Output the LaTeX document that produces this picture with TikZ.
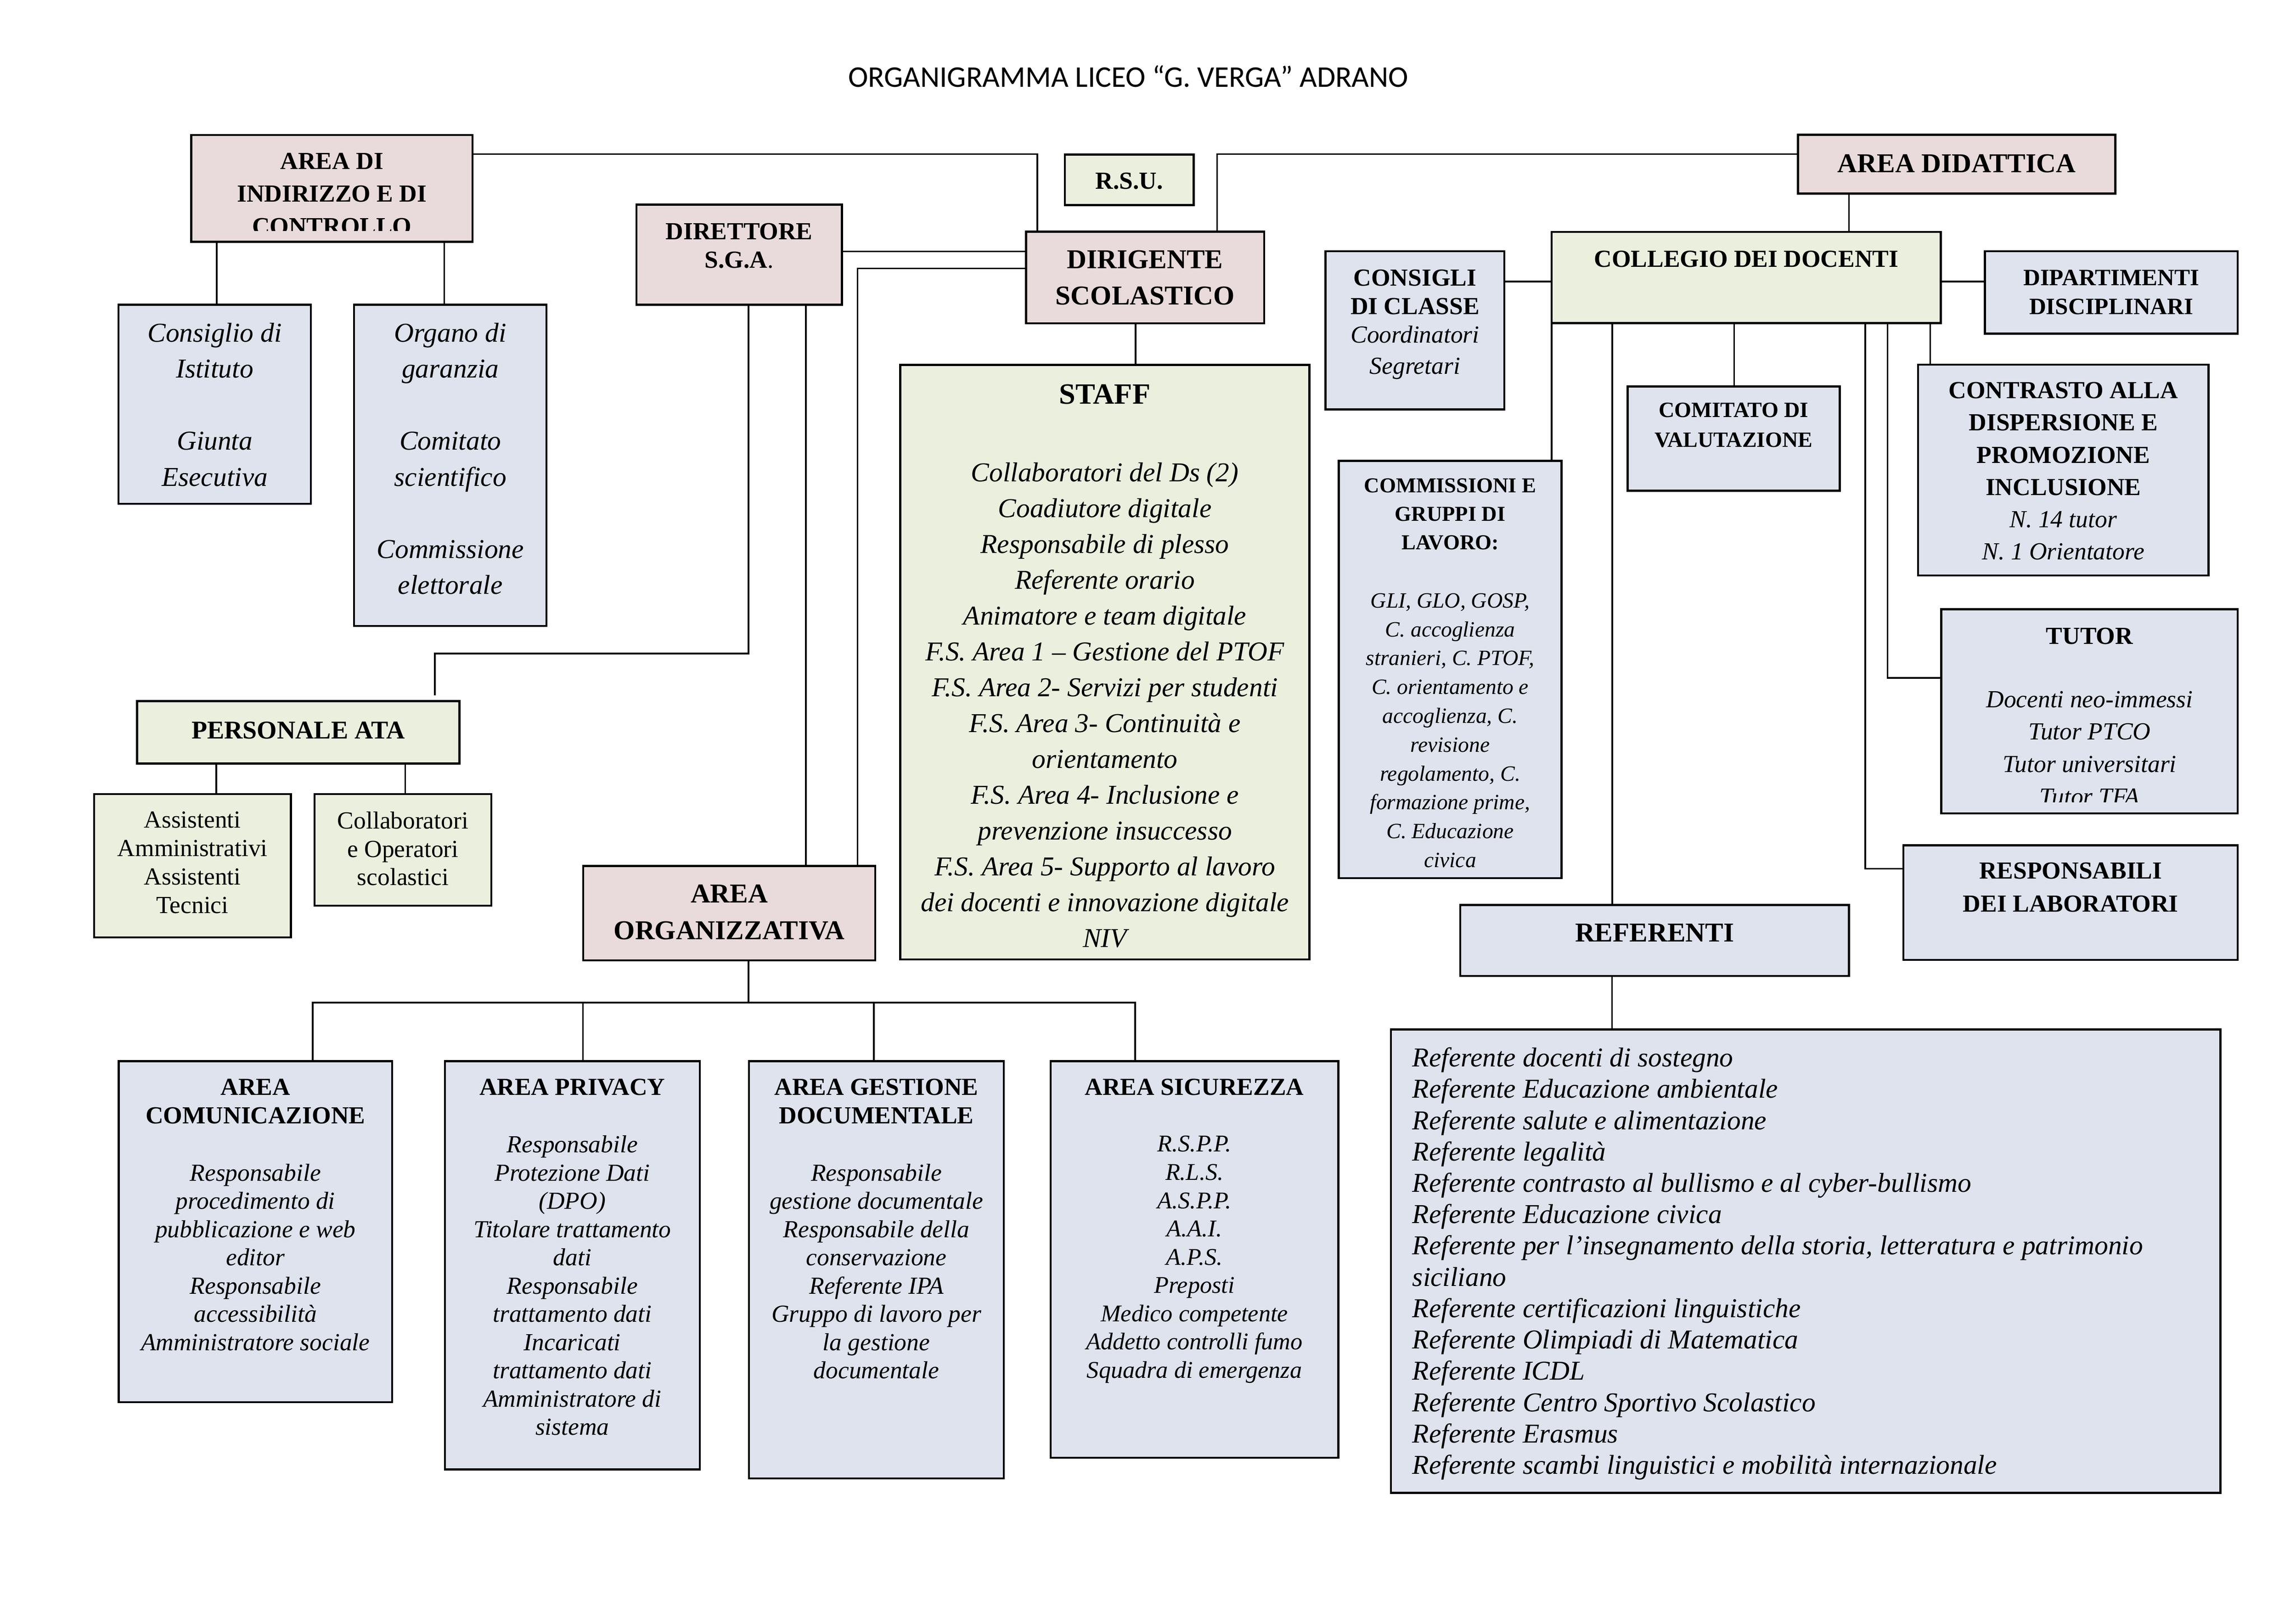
\documentclass[tikz,border=0pt]{standalone}
\usepackage{fontspec}
\setmainfont{Liberation Serif}
\newfontfamily\titlefont{Carlito}
\definecolor{pinkbox}{RGB}{233,219,219}
\definecolor{greenbox}{RGB}{235,240,222}
\definecolor{bluebox}{RGB}{222,227,238}
% box: name, style, x1, y1, x2, y2 (reference pixel units)
\newcommand{\bx}[6]{\node[#2, minimum width={(#5-#3)*0.5397pt}, minimum height={(#6-#4)*0.5397pt}] (#1) at ({(#3+#5)/2},{(#4+#6)/2}) {};}
% text block: name, cx, first baseline, font size, baselineskip, font switch, text
\newcommand{\tx}[7]{\node[anchor=north, align=center, inner sep=0pt, font=\fontsize{#4}{#5}\selectfont#6] (#1) at (#2,{#3-0.68*#4/0.5397}) {#7};}
\begin{document}
\begin{tikzpicture}[x=0.5397pt, y=-0.5397pt,
  basebox/.style={rectangle, draw=black, line width=0.75pt, inner sep=0pt, outer sep=0pt},
  pbox/.style={basebox, fill=pinkbox},
  gbox/.style={basebox, fill=greenbox},
  bbox/.style={basebox, fill=bluebox},
  conn/.style={draw=black, line width=0.6pt}]
\fill[white] (0,0) rectangle (1560,1103);
\useasboundingbox (0,0) rectangle (1560,1103);

\node[font=\titlefont\fontsize{11}{13}\selectfont, anchor=base, inner sep=0pt] (title) at (766.6,59) {ORGANIGRAMMA LICEO “G. VERGA” ADRANO};

% ---------- boxes ----------
\bx{ind}{pbox}{129.9}{91.7}{321}{164.3}
\bx{csi}{bbox}{80.5}{207}{211.2}{342.3}
\bx{org}{bbox}{240.6}{207}{371.3}{425.3}
\bx{dsga}{pbox}{432.4}{139}{572}{207}
\bx{rsu}{gbox}{723.6}{105}{811}{139.3}
\bx{ds}{pbox}{697.1}{157.4}{858.9}{219.7}
\bx{staff}{gbox}{611.7}{247.9}{889.7}{651.8}
\bx{did}{pbox}{1221.6}{91.5}{1437.2}{131.5}
\bx{col}{gbox}{1054.3}{157.6}{1318.6}{219.5}
\bx{cdc}{bbox}{900.6}{170.7}{1022.1}{278.1}
\bx{dip}{bbox}{1348.6}{170.7}{1520.4}{226.6}
\bx{cv}{bbox}{1105.8}{262.5}{1250}{333.3}
\bx{comm}{bbox}{909.6}{313.1}{1060.9}{596.6}
\bx{contr}{bbox}{1303.2}{247.7}{1500.6}{391}
\bx{tutor}{bbox}{1318.9}{413.8}{1520.4}{552.5}
\bx{resp}{bbox}{1293.3}{574.2}{1520.4}{652}
\bx{ref}{bbox}{992.1}{614.8}{1256.2}{663}
\bx{rl}{bbox}{945}{699.4}{1508.6}{1014.2}
\bx{ata}{gbox}{93.2}{476.3}{312.1}{518.7}
\bx{ass}{gbox}{64}{539.5}{197.6}{636.8}
\bx{coll}{gbox}{213.7}{539.5}{333.8}{615.2}
\bx{ao}{pbox}{396.3}{588.3}{594.6}{652.3}
\bx{acom}{bbox}{80.6}{720.9}{266.5}{952.5}
\bx{apriv}{bbox}{302.3}{720.9}{475.4}{998.2}
\bx{agest}{bbox}{508.9}{720.9}{682}{1004.3}
\bx{asic}{bbox}{713.8}{720.9}{909.3}{990.2}

% ---------- texts ----------
\begin{scope}
\clip (129.9,91.7) rectangle (321,156.8);
\tx{ind-t}{225.5}{115}{9}{11.93}{\bfseries}{AREA DI\\INDIRIZZO E DI\\CONTROLLO}
\end{scope}
\tx{csi-t}{145.9}{231.5}{10}{13.22}{\itshape}{Consiglio di\\Istituto\\[13.22pt]Giunta\\Esecutiva}
\tx{org-t}{306}{231.5}{10}{13.22}{\itshape}{Organo di\\garanzia\\[13.22pt]Comitato\\scientifico\\[13.22pt]Commissione\\elettorale}
\tx{dsga-t}{502.2}{162.5}{9}{10.5}{\bfseries}{DIRETTORE\\S.G.A\textmd{.}}
\tx{rsu-t}{767.3}{128.3}{9}{11}{\bfseries}{R.S.U.}
\tx{ds-t}{778}{182.4}{10}{13.28}{\bfseries}{DIRIGENTE\\SCOLASTICO}
\tx{staff-h}{750.7}{274.4}{10.8}{13}{\bfseries}{STAFF}
\tx{staff-t}{750.7}{326.4}{10}{13.14}{\itshape}{Collaboratori del Ds (2)\\Coadiutore digitale\\Responsabile di plesso\\Referente orario\\Animatore e team digitale\\F.S. Area 1 – Gestione del PTOF\\F.S. Area 2- Servizi per studenti\\F.S. Area 3- Continuità e\\orientamento\\F.S. Area 4- Inclusione e\\prevenzione insuccesso\\F.S. Area 5- Supporto al lavoro\\dei docenti e innovazione digitale\\NIV}
\tx{did-t}{1329.4}{117}{10}{12}{\bfseries}{AREA DIDATTICA}
\tx{col-t}{1186.5}{181.2}{9}{11}{\bfseries}{COLLEGIO DEI DOCENTI}
\tx{cdc-h}{961.4}{194}{9}{10.58}{\bfseries}{CONSIGLI\\DI CLASSE}
\tx{cdc-t}{961.4}{232.3}{9}{11.5}{\itshape}{Coordinatori\\Segretari}
\tx{dip-t}{1434.5}{194}{8.6}{10.58}{\bfseries}{DIPARTIMENTI\\DISCIPLINARI}
\tx{cv-t}{1177.9}{283.3}{8}{10.9}{\bfseries}{COMITATO DI\\VALUTAZIONE}
\tx{comm-h}{985.3}{334.4}{7.8}{10.5}{\bfseries}{COMMISSIONI E\\GRUPPI DI\\LAVORO:}
\tx{comm-t}{985.3}{412.8}{8}{10.57}{\itshape}{GLI, GLO, GOSP,\\C. accoglienza\\stranieri, C. PTOF,\\C. orientamento e\\accoglienza, C.\\revisione\\regolamento, C.\\formazione prime,\\C. Educazione\\civica}
\tx{contr-h}{1401.9}{270.6}{9}{11.86}{\bfseries}{CONTRASTO ALLA\\DISPERSIONE E\\PROMOZIONE\\INCLUSIONE}
\tx{contr-t}{1401.9}{358.4}{9}{11.65}{\itshape}{N. 14 tutor\\N. 1 Orientatore}
\tx{tutor-h}{1419.7}{437.5}{9}{11}{\bfseries}{TUTOR}
\begin{scope}
\clip (1318.9,413.8) rectangle (1520.4,545);
\tx{tutor-t}{1419.7}{480.5}{9}{11.9}{\itshape}{Docenti neo-immessi\\Tutor PTCO\\Tutor universitari\\Tutor TFA}
\end{scope}
\tx{resp-t}{1406.9}{597}{9}{12.1}{\bfseries}{RESPONSABILI\\DEI LABORATORI}
\tx{ref-t}{1124.2}{639.7}{10}{12}{\bfseries}{REFERENTI}
\node[anchor=north west, align=left, inner sep=0pt, font=\fontsize{10}{11.49}\selectfont\itshape] (rl-t) at (959.3,{723.8-0.68*10/0.5397}) {Referente docenti di sostegno\\Referente Educazione ambientale\\Referente salute e alimentazione\\Referente legalità\\Referente contrasto al bullismo e al cyber-bullismo\\Referente Educazione civica\\Referente per l’insegnamento della storia, letteratura e patrimonio\\siciliano\\Referente certificazioni linguistiche\\Referente Olimpiadi di Matematica\\Referente ICDL\\Referente Centro Sportivo Scolastico\\Referente Erasmus\\Referente scambi linguistici e mobilità internazionale};
\tx{ata-t}{202.65}{501.8}{9.4}{11}{\bfseries}{PERSONALE ATA}
\tx{ass-t}{130.8}{562.3}{9}{10.42}{}{Assistenti\\Amministrativi\\Assistenti\\Tecnici}
\tx{coll-t}{273.75}{562.3}{9}{10.42}{}{Collaboratori\\e Operatori\\scolastici}
\tx{ao-t}{495.5}{613.3}{10}{13.38}{\bfseries}{AREA\\ORGANIZZATIVA}
\tx{acom-h}{173.55}{743.9}{9}{10.4}{\bfseries}{AREA\\COMUNICAZIONE}
\tx{acom-t}{173.55}{801.6}{9}{10.36}{\itshape}{Responsabile\\procedimento di\\pubblicazione e web\\editor\\Responsabile\\accessibilità\\Amministratore sociale}
\tx{apriv-h}{388.85}{743.9}{9}{10.4}{\bfseries}{AREA PRIVACY}
\tx{apriv-t}{388.85}{782.4}{9}{10.36}{\itshape}{Responsabile\\Protezione Dati\\(DPO)\\Titolare trattamento\\dati\\Responsabile\\trattamento dati\\Incaricati\\trattamento dati\\Amministratore di\\sistema}
\tx{agest-h}{595.45}{743.9}{9}{10.4}{\bfseries}{AREA GESTIONE\\DOCUMENTALE}
\tx{agest-t}{595.45}{801.6}{9}{10.36}{\itshape}{Responsabile\\gestione documentale\\Responsabile della\\conservazione\\Referente IPA\\Gruppo di lavoro per\\la gestione\\documentale}
\tx{asic-h}{811.55}{743.9}{9}{10.4}{\bfseries}{AREA SICUREZZA}
\tx{asic-t}{811.55}{782.4}{8.8}{10.36}{\itshape}{R.S.P.P.\\R.L.S.\\A.S.P.P.\\A.A.I.\\A.P.S.\\Preposti\\Medico competente\\Addetto controlli fumo\\Squadra di emergenza}

% ---------- connectors ----------
\draw[conn] (ind.east |- 0,104.7) -| (704.8,0 |- ds.north);
\draw[conn] (827,0 |- ds.north) |- (did.west |- 0,104.7);
\draw[conn] (dsga.east |- 0,170.8) -- (ds.west |- 0,170.8);
\draw[conn] (ds.west |- 0,182.3) -| (582.7,0 |- ao.north);
\draw[conn] (547.6,0 |- dsga.south) -- (547.6,0 |- ao.north);
\coordinate (ataEnd) at (295.4,472.3);
\draw[conn] (508.5,0 |- dsga.south) |- (295.4,444) -- (ataEnd);
\draw[conn] (147.2,0 |- ind.south) -- (147.2,0 |- csi.north);
\draw[conn] (301.9,0 |- ind.south) -- (301.9,0 |- org.north);
\draw[conn] (771.5,0 |- ds.south) -- (771.5,0 |- staff.north);
\draw[conn] (1256.2,0 |- did.south) -- (1256.2,0 |- col.north);
\draw[conn] (col.west |- 0,191.2) -- (cdc.east |- 0,191.2);
\draw[conn] (col.east |- 0,191.2) -- (dip.west |- 0,191.2);
\draw[conn] (col.south west) -- (col.south west |- comm.north);
\draw[conn] (1095.5,0 |- col.south) -- (1095.5,0 |- ref.north);
\draw[conn] (1178.3,0 |- col.south) -- (1178.3,0 |- cv.north);
\draw[conn] (1267.3,0 |- col.south) |- (resp.west |- 0,590.2);
\draw[conn] (1282.5,0 |- col.south) |- (tutor.west |- 0,460.5);
\draw[conn] (1311.5,0 |- col.south) -- (1311.5,0 |- contr.north);
\draw[conn] (1095.3,0 |- ref.south) -- (1095.3,0 |- rl.north);
\draw[conn] (147,0 |- ata.south) -- (147,0 |- ass.north);
\draw[conn] (275.4,0 |- ata.south) -- (275.4,0 |- coll.north);
\coordinate (busL) at (212.4,681.1);
\coordinate (busR) at (771.3,681.1);
\draw[conn] (508.5,0 |- ao.south) -- (508.5,0 |- busL);
\draw[conn] (busL |- acom.north) -- (busL) -- (busR) -- (busR |- asic.north);
\draw[conn] (396.1,0 |- busL) -- (396.1,0 |- apriv.north);
\draw[conn] (593.8,0 |- busL) -- (593.8,0 |- agest.north);
\end{tikzpicture}
\end{document}
